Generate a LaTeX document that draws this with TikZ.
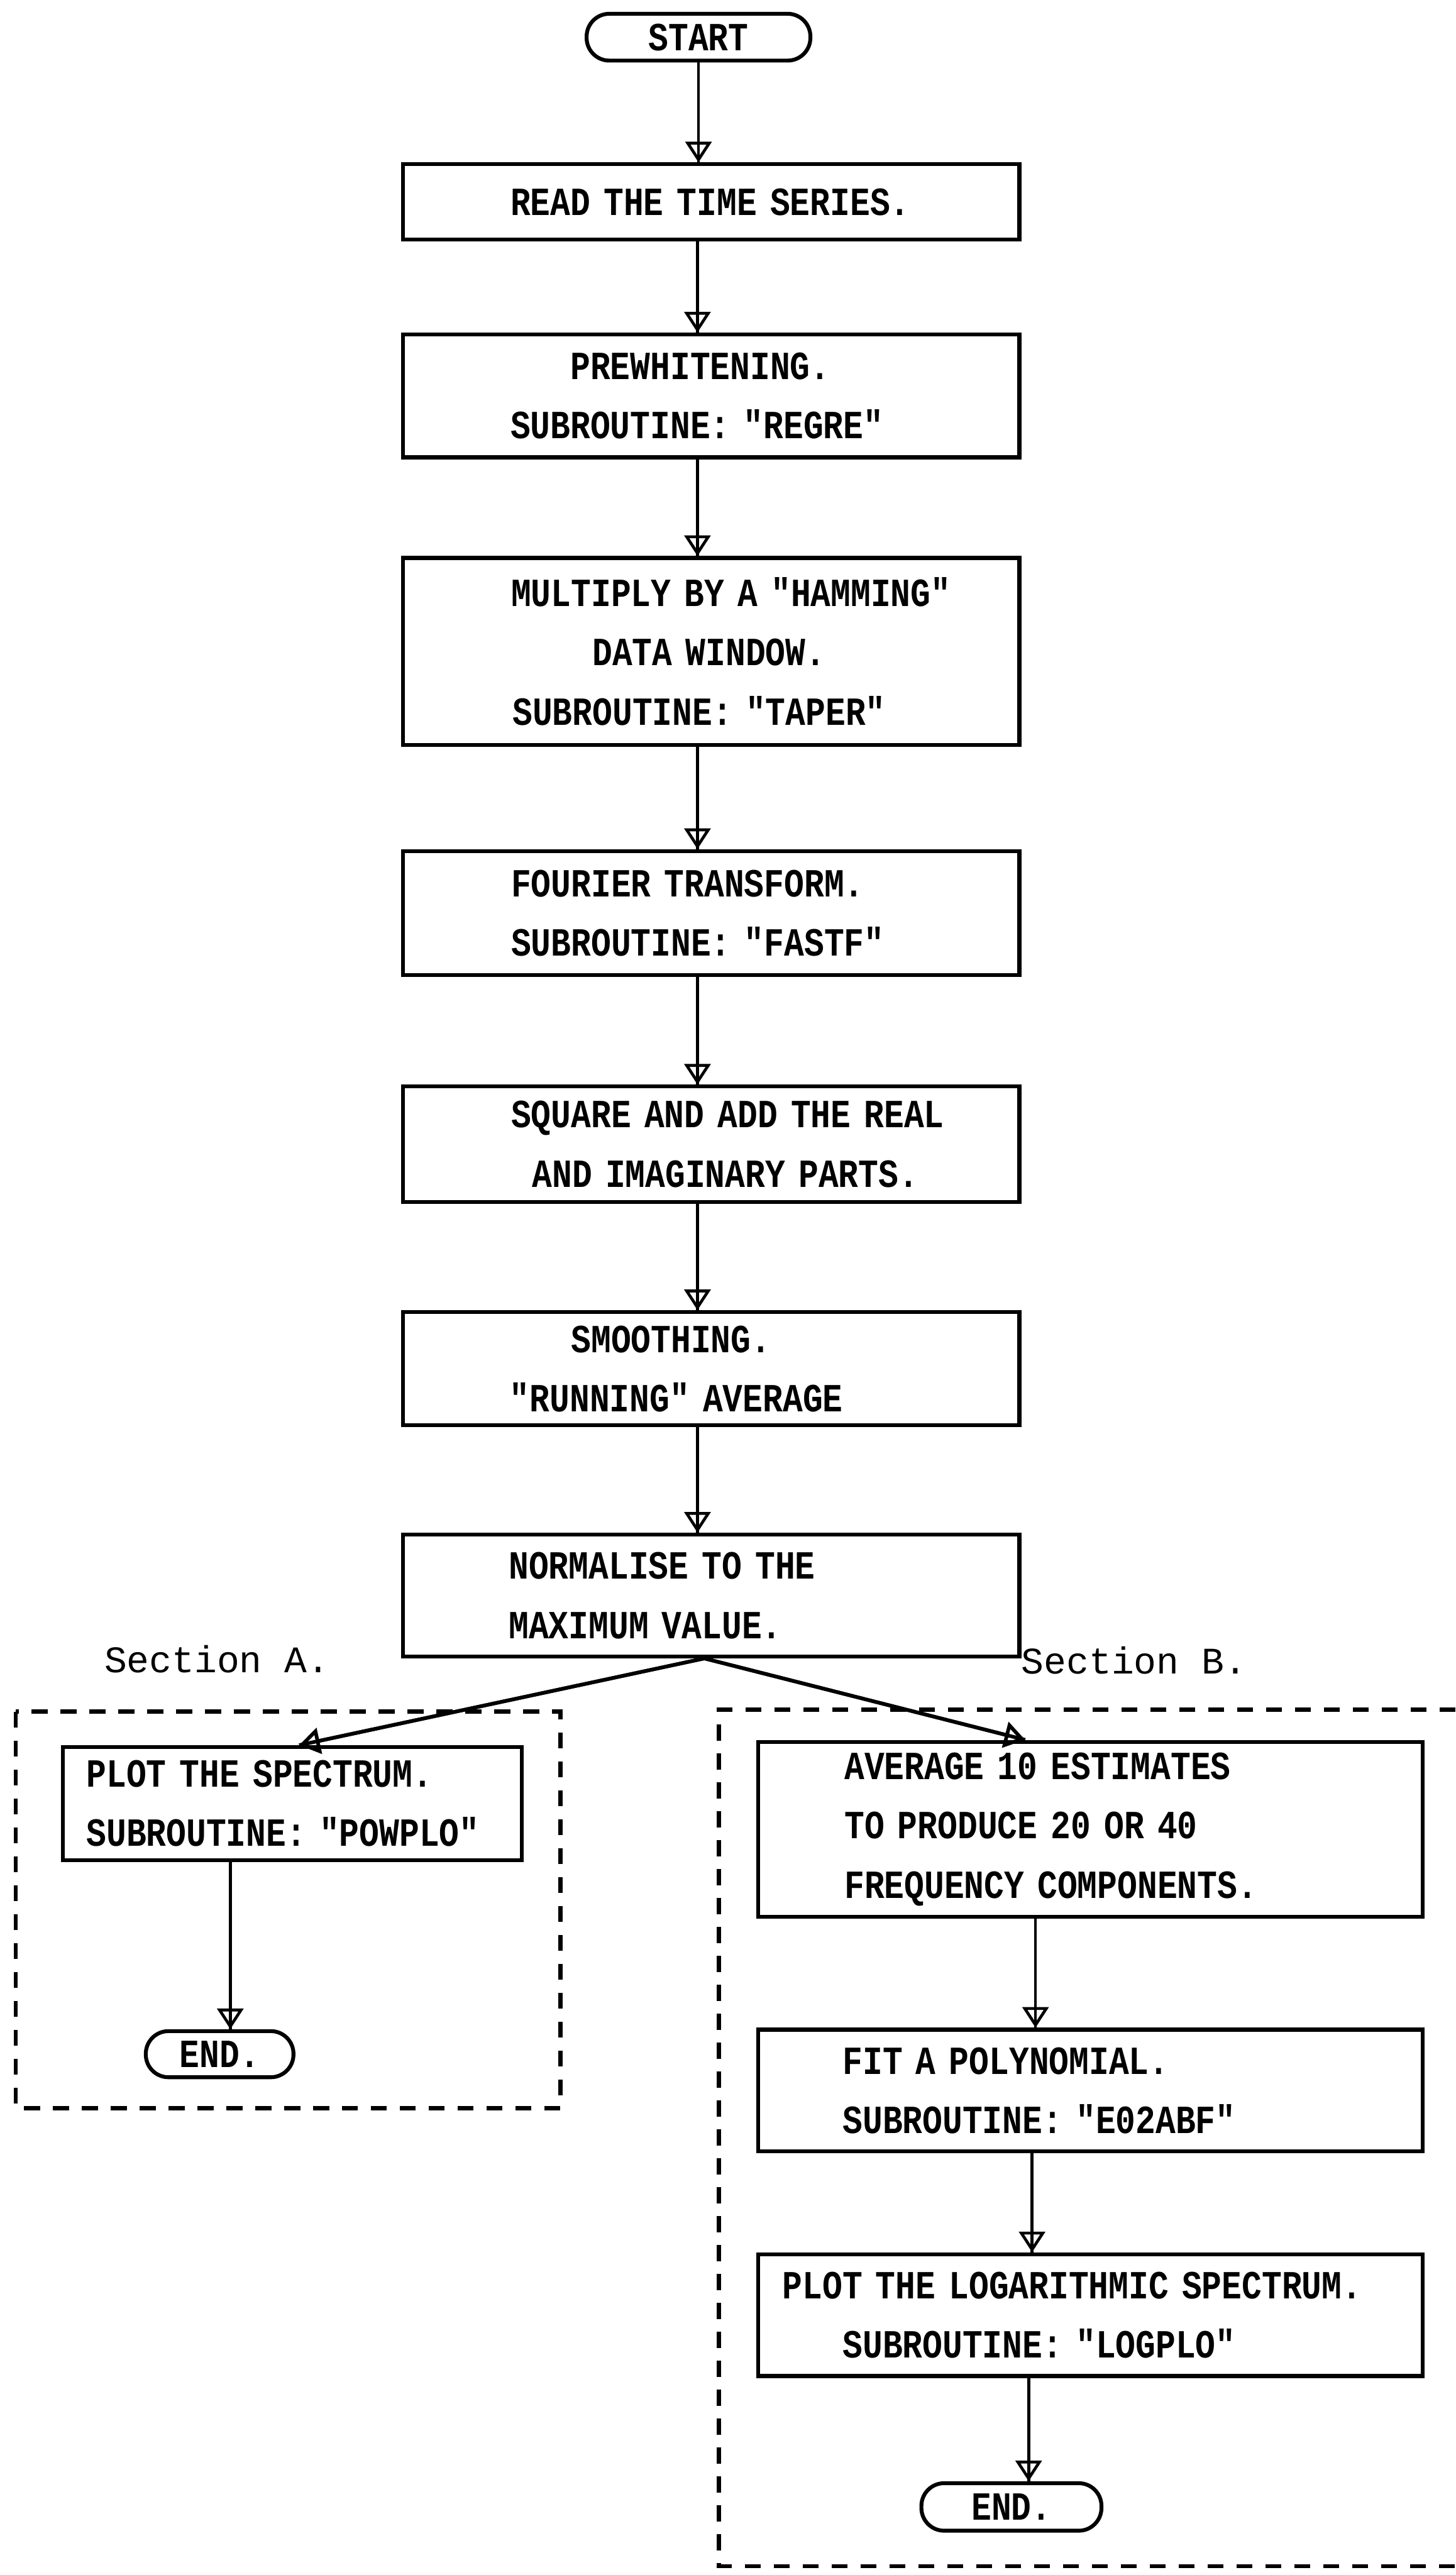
\documentclass[tikz,border=0pt]{standalone}
\usepackage{fontspec}
\usetikzlibrary{positioning, arrows.meta}

\newfontfamily\boxfont[FakeStretch=0.834]{Liberation Mono}
\newfontfamily\labelfont{Liberation Mono}

\tikzset{
  procbox/.style={rectangle, draw=black, line width=1.6pt, inner xsep=0pt, inner ysep=0pt, align=left,
    font=\boxfont\bfseries\fontsize{16.5pt}{24.5pt}\selectfont},
  mainbox/.style={procbox, text width=8.95cm},
  sidebox/.style={procbox, text width=9.65cm},
  terminal/.style={rectangle, rounded corners=3.3mm, draw=black, line width=1.6pt, inner sep=0pt,
    font=\boxfont\bfseries\fontsize{16.5pt}{20pt}\selectfont},
  flow/.style={line width=1.2pt, -{Triangle[open, width=3.8mm, length=3mm]}, postaction={draw, -}},
  sectframe/.style={line width=1.7pt, dash pattern=on 2.3mm off 1.9mm},
  sectlabel/.style={font=\labelfont\fontsize{15.5pt}{18pt}\selectfont, inner sep=0pt, anchor=west}
}

\begin{document}
\begin{tikzpicture}
	\useasboundingbox (0,0) rectangle (21.14,-37.4);

	\node[terminal, minimum width=3.25cm, minimum height=6.8mm] (start) at (10.145,-0.54) {START};
	\node[mainbox, minimum height=1.095cm] (read) [below=1.45cm of start, xshift=1.85mm]
		{\hspace*{1.56cm}READ THE TIME SERIES.};
	\node[mainbox, minimum height=1.785cm] (prew) [below=1.32cm of read]
		{\hspace*{2.43cm}PREWHITENING.\\ \hspace*{1.56cm}SUBROUTINE: "REGRE"};
	\node[mainbox, minimum height=2.715cm] (mult) [below=1.405cm of prew]
		{\hspace*{1.57cm}MULTIPLY BY A "HAMMING"\\ \hspace*{2.75cm}DATA WINDOW.\\ \hspace*{1.59cm}SUBROUTINE: "TAPER"};
	\node[mainbox, minimum height=1.8cm] (four) [below=1.485cm of mult]
		{\hspace*{1.57cm}FOURIER TRANSFORM.\\ \hspace*{1.57cm}SUBROUTINE: "FASTF"};
	\node[mainbox, minimum height=1.675cm] (square) [below=1.565cm of four]
		{\hspace*{1.57cm}SQUARE AND ADD THE REAL\\ \hspace*{1.875cm}AND IMAGINARY PARTS.};
	\node[mainbox, minimum height=1.645cm] (smooth) [below=1.545cm of square]
		{\hspace*{2.44cm}SMOOTHING.\\ \hspace*{1.55cm}"RUNNING" AVERAGE};
	\node[mainbox, minimum height=1.77cm] (norm) [below=1.53cm of smooth]
		{\hspace*{1.535cm}NORMALISE TO THE\\ \hspace*{1.535cm}MAXIMUM VALUE.};

	\node[sectlabel] (labA) at (1.51,-24.1) {Section A.};
	\node[sectlabel] (labB) at (14.83,-24.12) {Section B.};

	\node[procbox, text width=6.66cm, minimum height=1.64cm] (plot) at (4.245,-26.195)
		{\hspace*{0.34cm}PLOT THE SPECTRUM.\\ \hspace*{0.34cm}SUBROUTINE: "POWPLO"};
	\node[terminal, minimum width=2.145cm, minimum height=6.7mm] (endA) at (3.19,-29.835) {END.};

	\node[sidebox, minimum height=2.545cm] (avg) at (15.84,-26.57)
		{\hspace*{1.25cm}AVERAGE 10 ESTIMATES\\ \hspace*{1.25cm}TO PRODUCE 20 OR 40\\ \hspace*{1.25cm}FREQUENCY COMPONENTS.};
	\node[sidebox, minimum height=1.77cm] (fit) [below=1.58cm of avg]
		{\hspace*{1.225cm}FIT A POLYNOMIAL.\\ \hspace*{1.225cm}SUBROUTINE: "E02ABF"};
	\node[sidebox, minimum height=1.77cm] (logp) [below=1.435cm of fit]
		{\hspace*{0.35cm}PLOT THE LOGARITHMIC SPECTRUM.\\ \hspace*{1.225cm}SUBROUTINE: "LOGPLO"};
	\node[terminal, minimum width=2.615cm, minimum height=6.9mm] (endB) [below=1.5cm of logp, xshift=-11.5mm] {END.};

	\draw[sectframe] (0.23,-24.86) rectangle (8.14,-30.62);
	\draw[sectframe] (21.14,-24.83) -- (10.44,-24.83) -- (10.44,-37.27) -- (21.14,-37.27);

	\draw[flow] (start.south) -- (start.south |- read.north);
	\draw[flow] ([xshift=-2mm]read.south) -- ([xshift=-2mm]prew.north);
	\draw[flow] ([xshift=-2mm]prew.south) -- ([xshift=-2mm]mult.north);
	\draw[flow] ([xshift=-2mm]mult.south) -- ([xshift=-2mm]four.north);
	\draw[flow] ([xshift=-2mm]four.south) -- ([xshift=-2mm]square.north);
	\draw[flow] ([xshift=-2mm]square.south) -- ([xshift=-2mm]smooth.north);
	\draw[flow] ([xshift=-2mm]smooth.south) -- ([xshift=-2mm]norm.north);

	\draw[flow, line width=1.5pt] ([xshift=-1mm]norm.south) -- ([xshift=1mm]plot.north);
	\draw[flow, line width=1.5pt] ([xshift=-1mm]norm.south) -- ([xshift=-9.5mm]avg.north);

	\draw[flow] ([xshift=-9mm]plot.south) -- ([xshift=-9mm]plot.south |- endA.north);
	\draw[flow] ([xshift=-8mm]avg.south) -- ([xshift=-8mm]fit.north);
	\draw[flow] ([xshift=-8.5mm]fit.south) -- ([xshift=-8.5mm]logp.north);
	\draw[flow] ([xshift=-9mm]logp.south) -- ([xshift=-9mm]logp.south |- endB.north);
\end{tikzpicture}
\end{document}
